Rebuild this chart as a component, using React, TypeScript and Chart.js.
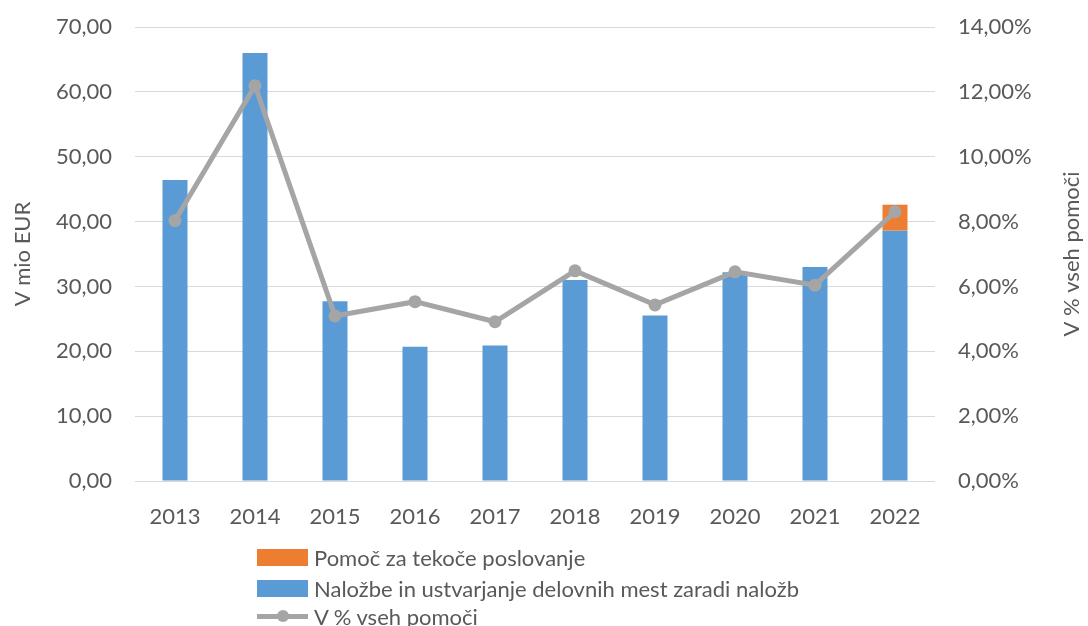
import React, { useEffect, useRef } from "react";
import { Chart, registerables } from "chart.js";

Chart.register(...registerables);

const years = ["2013", "2014", "2015", "2016", "2017", "2018", "2019", "2020", "2021", "2022"];
const nalozbe = [46.4, 66.0, 27.7, 20.7, 20.9, 31.0, 25.5, 32.2, 33.0, 38.6];
const tekoce = [null, null, null, null, null, null, null, null, null, 4.0];
const delez = [8.03, 12.19, 5.09, 5.53, 4.91, 6.48, 5.43, 6.45, 6.04, 8.3];

const labelTekoce = "Pomoč za tekoče poslovanje";
const labelNalozbe = "Naložbe in ustvarjanje delovnih mest zaradi naložb";
const labelDelez = "V % vseh pomoči";
const leftTitle = "V mio EUR";
const rightTitle = "V % vseh pomoči";

const FONT = "Lato, 'Open Sans', sans-serif";
const FS = 22;
const TEXT = "#595959";
const BLUE = "#5B9BD5";
const ORANGE = "#ED7D31";
const GRAY = "#A5A5A5";

const fmt = (v: number) => v.toFixed(2).replace(".", ",");

const rightTitlePlugin = {
  id: "rightTitle",
  afterDraw(chart: any) {
    const ctx = chart.ctx;
    const area = chart.chartArea;
    ctx.save();
    ctx.translate(1072, (area.top + area.bottom) / 2);
    ctx.rotate(-Math.PI / 2);
    ctx.fillStyle = TEXT;
    ctx.font = `${FS}px ${FONT}`;
    ctx.textAlign = "center";
    ctx.textBaseline = "middle";
    ctx.fillText(rightTitle, 0, 0);
    ctx.restore();
  },
};

export default function App() {
  const ref = useRef<HTMLCanvasElement>(null);

  useEffect(() => {
    if (!ref.current) return;
    const chart = new Chart(ref.current, {
      type: "bar",
      data: {
        labels: years,
        datasets: [
          {
            type: "line",
            label: labelDelez,
            data: delez,
            yAxisID: "y1",
            borderColor: GRAY,
            backgroundColor: GRAY,
            borderWidth: 5,
            pointRadius: 6.5,
            pointBackgroundColor: GRAY,
            pointBorderWidth: 0,
            tension: 0,
            order: 0,
          } as any,
          {
            type: "bar",
            label: labelNalozbe,
            data: nalozbe,
            yAxisID: "y",
            backgroundColor: BLUE,
            barPercentage: 0.3125,
            categoryPercentage: 1,
            order: 1,
          },
          {
            type: "bar",
            label: labelTekoce,
            data: tekoce as any,
            yAxisID: "y",
            backgroundColor: ORANGE,
            barPercentage: 0.3125,
            categoryPercentage: 1,
            order: 1,
          },
        ],
      },
      options: {
        responsive: false,
        animation: false,
        layout: { padding: { top: 27, bottom: 95, left: 0, right: 0 } },
        plugins: {
          legend: { display: false },
          tooltip: { enabled: false },
        },
        scales: {
          x: {
            stacked: true,
            grid: { display: false },
            border: { display: false },
            ticks: { color: TEXT, font: { family: FONT, size: FS }, padding: 15 },
            afterFit: (s: any) => {
              s.height = 50;
            },
          },
          y: {
            stacked: true,
            position: "left",
            min: 0,
            max: 70,
            grid: { color: "#D9D9D9", lineWidth: 1, drawTicks: false },
            border: { display: false },
            ticks: {
              stepSize: 10,
              color: TEXT,
              font: { family: FONT, size: FS },
              padding: 23,
              callback: (v: any) => fmt(Number(v)),
            },
            title: {
              display: true,
              text: leftTitle,
              color: TEXT,
              font: { family: FONT, size: FS },
              padding: { top: 10, bottom: 0 },
            },
            afterFit: (s: any) => {
              s.width = 135;
              s.paddingTop = 0;
              s.paddingBottom = 0;
            },
          },
          y1: {
            position: "right",
            min: 0,
            max: 14,
            grid: { display: false, drawTicks: false },
            border: { display: false },
            ticks: {
              stepSize: 2,
              color: TEXT,
              font: { family: FONT, size: FS },
              padding: 23,
              callback: (v: any) => fmt(Number(v)) + "%",
            },
            afterFit: (s: any) => {
              s.width = 153;
              s.paddingTop = 0;
              s.paddingBottom = 0;
            },
          },
        },
      },
      plugins: [rightTitlePlugin],
    });
    return () => chart.destroy();
  }, []);

  const rowStyle: React.CSSProperties = {
    position: "absolute",
    left: 257,
    display: "flex",
    alignItems: "center",
    height: 28,
    fontFamily: FONT,
    fontSize: FS,
    color: TEXT,
    whiteSpace: "nowrap",
  };
  const box = (c: string): React.CSSProperties => ({
    width: 51,
    height: 17,
    background: c,
    marginRight: 6,
    flex: "none",
  });

  return (
    <div style={{ position: "fixed", left: 0, top: 0, width: 1088, height: 626, background: "#fff", overflow: "hidden" }}>
      <canvas ref={ref} width={1088} height={626} style={{ position: "absolute", left: 0, top: 0, width: 1088, height: 626 }} />
      <div style={{ ...rowStyle, top: 543 }}>
        <div style={box(ORANGE)} />
        <span>{labelTekoce}</span>
      </div>
      <div style={{ ...rowStyle, top: 574 }}>
        <div style={box(BLUE)} />
        <span>{labelNalozbe}</span>
      </div>
      <div style={{ ...rowStyle, top: 602 }}>
        <div style={{ position: "relative", width: 51, height: 17, marginRight: 6, flex: "none" }}>
          <div style={{ position: "absolute", left: 0, right: 0, top: 6.5, height: 4.5, background: GRAY }} />
          <div style={{ position: "absolute", left: 19.5, top: 2.5, width: 12, height: 12, borderRadius: 6, background: GRAY }} />
        </div>
        <span>{labelDelez}</span>
      </div>
    </div>
  );
}
